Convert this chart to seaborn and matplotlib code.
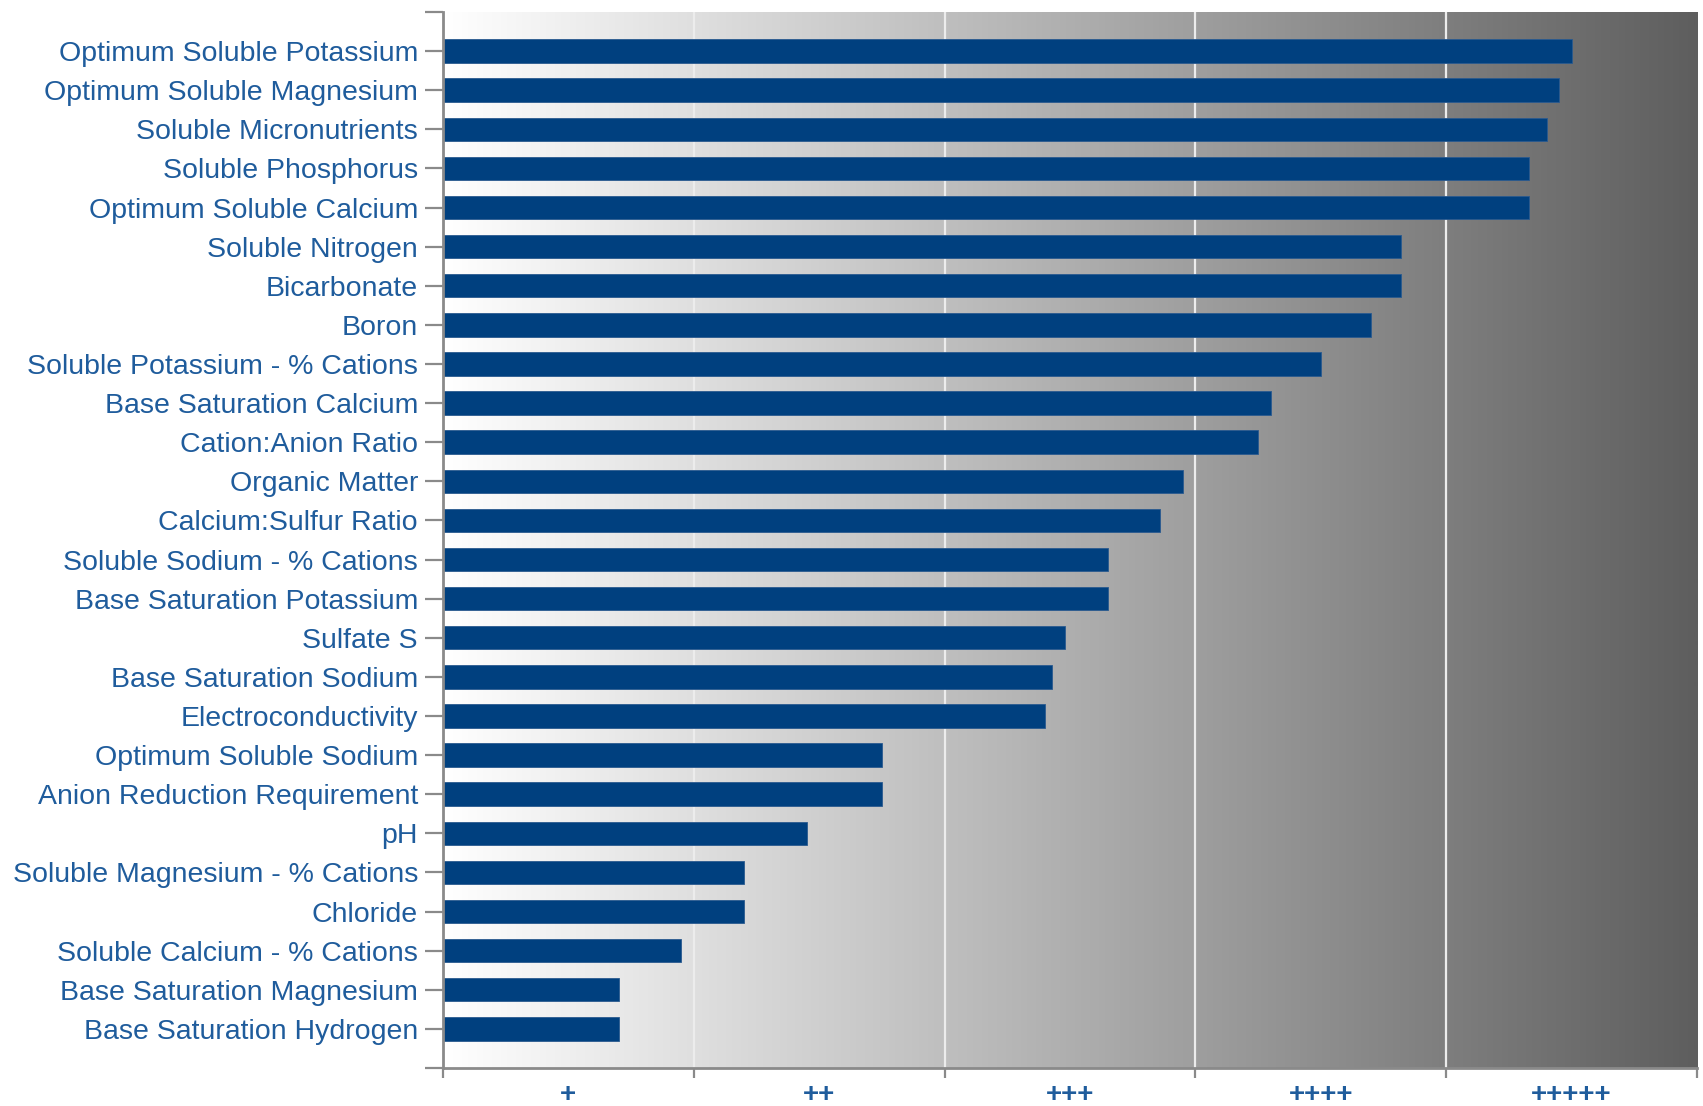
import numpy as np
import pandas as pd
import matplotlib
matplotlib.use("Agg")
import matplotlib.pyplot as plt
from matplotlib.colors import LinearSegmentedColormap
import seaborn as sns

categories = [
    "Optimum Soluble Potassium", "Optimum Soluble Magnesium", "Soluble Micronutrients",
    "Soluble Phosphorus", "Optimum Soluble Calcium", "Soluble Nitrogen", "Bicarbonate",
    "Boron", "Soluble Potassium - % Cations", "Base Saturation Calcium",
    "Cation:Anion Ratio", "Organic Matter", "Calcium:Sulfur Ratio",
    "Soluble Sodium - % Cations", "Base Saturation Potassium", "Sulfate S",
    "Base Saturation Sodium", "Electroconductivity", "Optimum Soluble Sodium",
    "Anion Reduction Requirement", "pH", "Soluble Magnesium - % Cations", "Chloride",
    "Soluble Calcium - % Cations", "Base Saturation Magnesium", "Base Saturation Hydrogen",
]
values = [4.50, 4.45, 4.40, 4.33, 4.33, 3.82, 3.82, 3.70, 3.50, 3.30, 3.25, 2.95, 2.86,
          2.65, 2.65, 2.48, 2.43, 2.40, 1.75, 1.75, 1.45, 1.20, 1.20, 0.95, 0.70, 0.70]
x_labels = ["+", "++", "+++", "++++", "+++++"]

df = pd.DataFrame({"category": categories, "value": values})

sns.set_style("ticks")
plt.rcParams["font.family"] = ["Liberation Sans", "DejaVu Sans"]

BAR = "#00407f"
TXT = "#1f5c9c"
SPINE = "#8a8a8a"

fig = plt.figure(figsize=(17.03, 11.06), dpi=100)
ax = fig.add_axes([0.2601, 0.0344, 0.7364, 0.9548])

n = len(categories)
cmap = LinearSegmentedColormap.from_list("bg", ["#ffffff", "#5e5e5e"])
ax.imshow(np.linspace(0, 1, 512).reshape(1, -1), extent=[0, 5, n, -1],
          aspect="auto", cmap=cmap, zorder=0, interpolation="bilinear")

for gx in range(1, 5):
    ax.axvline(gx, color="#ececec", lw=1.6, zorder=1)

sns.barplot(data=df, x="value", y="category", orient="h", color=BAR, saturation=1,
            width=0.6, edgecolor="#2a5a8f", linewidth=0.6, ax=ax, zorder=2)

ax.set_xlim(0, 5)
ax.set_ylim(n, -1)
ax.set_xlabel("")
ax.set_ylabel("")

# y ticks: categories plus edge ticks
ax.set_yticks(list(range(n)) + [-1, n])
ax.set_yticklabels(categories + ["", ""])
ax.tick_params(axis="y", length=13, width=1.6, color=SPINE, pad=5,
               labelsize=20.5, labelcolor=TXT)

# x ticks: major at boundaries, labels centered between
ax.set_xticks(range(6))
ax.set_xticklabels([""] * 6)
ax.tick_params(axis="x", which="major", length=7, width=1.6, color=SPINE)
ax.set_xticks([i + 0.5 for i in range(5)], minor=True)
ax.set_xticklabels(x_labels, minor=True, fontweight="bold")
ax.tick_params(axis="x", which="minor", length=0, pad=10, labelsize=20, labelcolor=TXT)

for s in ["top", "right"]:
    ax.spines[s].set_visible(False)
for s in ["left", "bottom"]:
    ax.spines[s].set_color(SPINE)
    ax.spines[s].set_linewidth(2.0)
ax.spines["left"].set_zorder(3)
ax.spines["bottom"].set_zorder(3)

fig.savefig("out.png", dpi=100)
